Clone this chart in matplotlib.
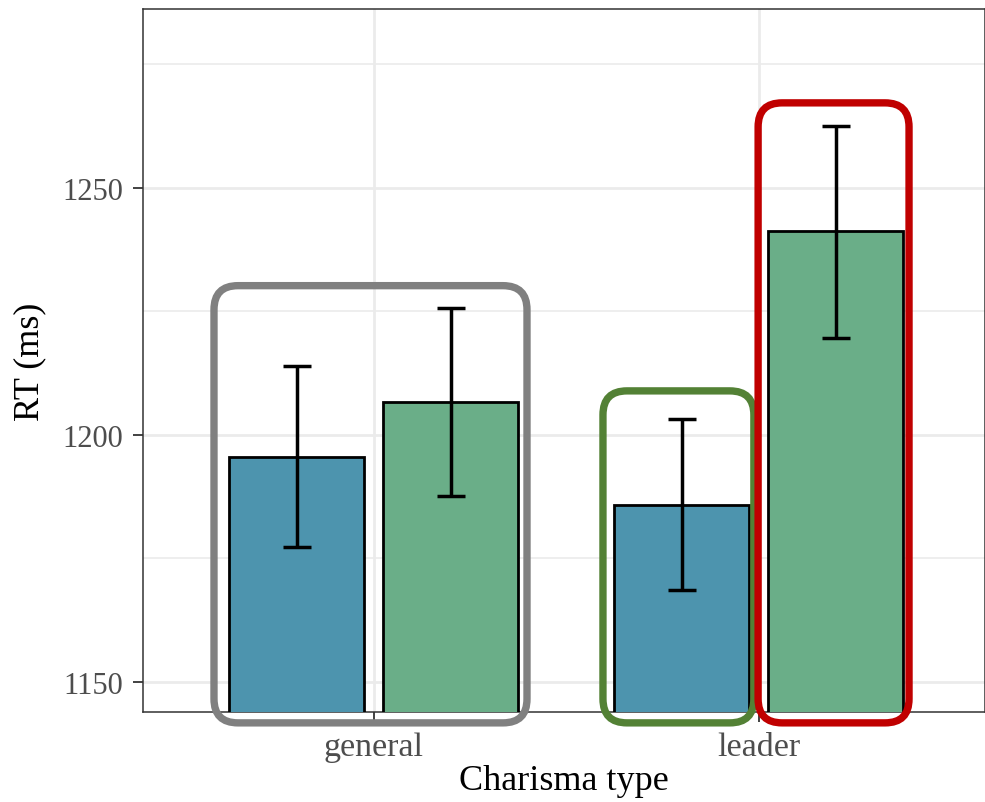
import matplotlib
matplotlib.use("Agg")
from matplotlib import pyplot as plt
from matplotlib.patches import FancyBboxPatch
from matplotlib.transforms import IdentityTransform
from matplotlib.ticker import MultipleLocator
import numpy as np

categories = ["general", "leader"]
groups = ["a", "b"]
means = {"a": [1195.6, 1185.8], "b": [1206.7, 1241.2]}
lower = {"a": [1177.4, 1168.5], "b": [1187.7, 1219.6]}
upper = {"a": [1214.0, 1203.2], "b": [1225.6, 1262.6]}
colors = {"a": "#4d94ae", "b": "#6aae88"}

plt.rcParams['font.family'] = ['Liberation Serif', 'DejaVu Serif']

fig = plt.figure(figsize=(9.85, 8.03), dpi=100)
ax = fig.add_axes([143 / 985, 1 - 713 / 803, 1 - 143 / 985, (713 - 10) / 803])

x = np.arange(1, len(categories) + 1)
offsets = {"a": -0.2, "b": 0.2}
for g in groups:
    xs = x + offsets[g]
    m = np.array(means[g])
    ax.bar(xs, m, width=0.35, color=colors[g], edgecolor="black", linewidth=2.0, zorder=3)
    ax.errorbar(xs, m, yerr=[m - np.array(lower[g]), np.array(upper[g]) - m],
                fmt="none", ecolor="black", elinewidth=2.5, capsize=10.4, capthick=2.5, zorder=4)

ax.set_xlim(1 - 230.5 / 385, 2 + 226.5 / 385)
ax.set_ylim(1143.9, 1286.2)
ax.set_xticks(x)
ax.set_xticklabels(categories)
ax.yaxis.set_major_locator(MultipleLocator(50))
ax.yaxis.set_minor_locator(MultipleLocator(25))
ax.grid(True, which="major", color="#ebebeb", linewidth=2.0, zorder=0)
ax.grid(True, which="minor", axis="y", color="#ebebeb", linewidth=1.2, zorder=0)
ax.set_axisbelow(True)
ax.tick_params(axis="both", which="major", labelcolor="#4d4d4d",
               color="#333333", length=7, width=1.3)
ax.tick_params(axis="y", which="major", labelsize=22, pad=7.5)
ax.tick_params(axis="x", which="major", labelsize=24.5, pad=7)
ax.tick_params(axis="both", which="minor", length=0)
for s in ax.spines.values():
    s.set_color("#333333")
    s.set_linewidth(1.1)

ax.set_xlabel("Charisma type", fontsize=26, color="black", labelpad=1.5)
ax.set_ylabel("RT (ms)", fontsize=26, color="black", labelpad=11)

# highlight boxes (data-space corners, drawn in pixel space so corners stay round)
boxes = [
    ((0.5857, 1141.7), (1.3987, 1230.2), "#808080"),
    ((1.596, 1141.7), (1.988, 1208.9), "#538135"),
    ((1.999, 1141.7), (2.391, 1267.2), "#c00000"),
]
fig.canvas.draw()
for (x0, y0), (x1, y1), c in boxes:
    (px0, py0), (px1, py1) = ax.transData.transform([(x0, y0), (x1, y1)])
    p = FancyBboxPatch((px0, py0), px1 - px0, py1 - py0,
                       boxstyle="round,pad=0,rounding_size=24",
                       fill=False, edgecolor=c, linewidth=5.3,
                       transform=IdentityTransform(), zorder=10)
    fig.add_artist(p)

fig.savefig("out.png", dpi=100)
